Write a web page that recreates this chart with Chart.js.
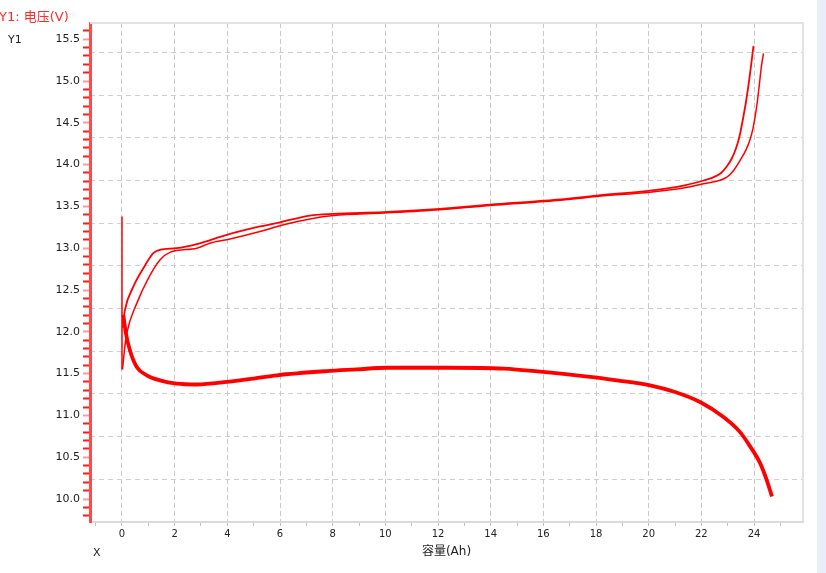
<!DOCTYPE html>
<html lang="zh">
<head>
<meta charset="UTF-8">
<title>电压-容量曲线</title>
<script src="https://cdn.jsdelivr.net/npm/chart.js"></script>
<style>
  * { margin: 0; padding: 0; box-sizing: border-box }
  body { background: #eaeef8; width: 826px; height: 573px; overflow: hidden; font-family: 'DejaVu Sans', 'Noto Sans CJK SC', sans-serif }
  #wrap { position: relative; width: 817px; height: 573px; background: #fff }
  #chart { position: absolute; left: 0; top: 0 }
  .lbl { position: absolute; white-space: nowrap; line-height: 1 }
  #ttl { left: -1px; top: 10px; font-size: 13px; color: #ff2a2a }
  #y1 { left: 8px; top: 34px; font-size: 11px; color: #222 }
  #xl { left: 93px; top: 547px; font-size: 11px; color: #222 }
</style>
</head>
<body>
<div id="wrap">
  <canvas id="chart" width="817" height="573"></canvas>
  <div class="lbl" id="ttl">Y1: 电压(V)</div>
  <div class="lbl" id="y1">Y1</div>
  <div class="lbl" id="xl">X</div>
</div>
<script>
// 充电曲线 A（先到顶）
const chargeAX = [0.02, 0.11, 0.43, 0.81, 1.19, 1.44, 2.08, 2.84, 3.98, 5.24, 6.0, 7.14, 8.03, 9.92, 12.08, 13.98, 16.51, 18.03, 20.05, 21.32, 22.08, 22.71, 22.97, 23.15, 23.3, 23.45, 23.6, 23.72, 23.82, 23.91, 23.98];
const chargeAY = [12.05, 12.26, 12.54, 12.76, 12.94, 12.98, 13.0, 13.05, 13.16, 13.26, 13.31, 13.39, 13.41, 13.43, 13.47, 13.52, 13.58, 13.63, 13.69, 13.75, 13.81, 13.89, 13.98, 14.07, 14.18, 14.34, 14.58, 14.8, 15.02, 15.24, 15.42];
// 充电曲线 B
const chargeBX = [0.02, 0.1, 0.18, 0.56, 1.0, 1.44, 1.82, 2.84, 3.34, 4.1, 5.24, 6.13, 7.14, 8.03, 9.92, 12.08, 13.98, 16.51, 18.03, 20.05, 21.32, 22.08, 22.97, 23.2, 23.47, 23.7, 23.85, 23.96, 24.04, 24.12, 24.2, 24.27, 24.36];
const chargeBY = [11.55, 11.8, 11.98, 12.34, 12.64, 12.86, 12.95, 13.0, 13.06, 13.11, 13.2, 13.28, 13.35, 13.39, 13.42, 13.46, 13.51, 13.57, 13.62, 13.67, 13.72, 13.77, 13.85, 13.92, 14.05, 14.18, 14.3, 14.43, 14.57, 14.74, 14.95, 15.15, 15.33];
// 放电曲线
const dischargeX = [0.05, 0.15, 0.3, 0.56, 0.94, 1.44, 2.08, 2.84, 3.98, 5.0, 5.88, 7.77, 8.91, 10.05, 12.46, 14.48, 16.0, 17.52, 18.79, 20.05, 21.0, 21.95, 22.84, 23.47, 23.85, 24.23, 24.48, 24.68];
const dischargeY = [12.2, 11.98, 11.78, 11.58, 11.48, 11.42, 11.38, 11.37, 11.4, 11.44, 11.48, 11.53, 11.55, 11.57, 11.57, 11.56, 11.52, 11.47, 11.42, 11.36, 11.28, 11.16, 10.98, 10.8, 10.63, 10.43, 10.23, 10.03];
// 起始处的竖线
const spikeX = [0, 0];
const spikeY = [13.38, 11.55];

const xTitle = '容量(Ah)';

function pts(xs, ys) { return xs.map((x, i) => ({ x, y: ys[i] })); }

const frame = {
  id: 'frame',
  beforeDatasetsDraw(chart) {
    const { ctx, chartArea: a } = chart;
    ctx.save();
    ctx.strokeStyle = '#e2e2e2';
    ctx.lineWidth = 2;
    ctx.beginPath();
    ctx.moveTo(a.left, a.top); ctx.lineTo(a.right, a.top); ctx.lineTo(a.right, a.bottom);
    ctx.stroke();
    ctx.restore();
  }
};

const line = (data, w, mode) => ({
  data, showLine: true, pointRadius: 0, borderColor: '#ff0000', borderWidth: w,
  cubicInterpolationMode: mode, tension: 0
});

new Chart(document.getElementById('chart'), {
  type: 'scatter',
  data: {
    datasets: [
      line(pts(spikeX, spikeY), 1.5, 'default'),
      line(pts(chargeAX, chargeAY), 1.8, 'monotone'),
      line(pts(chargeBX, chargeBY), 1.5, 'monotone'),
      line(pts(dischargeX, dischargeY), 3.8, 'monotone')
    ]
  },
  options: {
    responsive: false,
    animation: false,
    events: [],
    layout: { padding: { top: 23, right: 14, left: 0, bottom: 0 } },
    plugins: { legend: { display: false }, tooltip: { enabled: false } },
    scales: {
      x: {
        type: 'linear', min: -1.215, max: 25.86,
        afterFit: s => { s.height = 51 },
        ticks: {
          stepSize: 1, includeBounds: false, autoSkip: false, maxRotation: 0, padding: 2,
          color: '#222', font: { family: 'DejaVu Sans', size: 10 },
          callback: v => (Math.round(v) % 2 === 0 ? String(Math.round(v)) : '')
        },
        grid: {
          color: c => (Math.round(c.tick.value) % 2 === 0 ? '#c8c8c8' : 'rgba(0,0,0,0)'),
          lineWidth: 1, tickColor: '#c0c0c0', tickLength: 4, tickWidth: 1
        },
        border: { color: '#dadada', width: 2, dash: [5, 3] },
        title: {
          display: true, text: xTitle, color: '#222',
          font: { family: "'DejaVu Sans', 'Noto Sans CJK SC'", size: 12 },
          padding: { top: 0, bottom: 14 }
        }
      },
      y: {
        type: 'linear', position: 'left', min: 9.725, max: 15.694,
        afterFit: s => { s.width = 90 },
        ticks: {
          stepSize: 0.1, includeBounds: false, autoSkip: false, padding: 3,
          color: '#222', font: { family: 'DejaVu Sans', size: 11 },
          callback: v => (Math.round(v * 10) % 5 === 0 ? v.toFixed(1) : '')
        },
        grid: {
          drawOnChartArea: false, tickLength: 7, tickWidth: 2,
          tickColor: c => (Math.round(c.tick.value * 10) % 5 === 0 ? '#ff9a9a' : '#ff1a1a')
        },
        border: { color: '#ff4a4a', width: 3 }
      },
      yg: {
        type: 'linear', position: 'right', min: 0, max: 11.69,
        afterFit: s => { s.width = 0 },
        ticks: { display: false, stepSize: 1, includeBounds: false },
        grid: { drawTicks: false, color: c => (c.tick.value === 0 ? 'rgba(0,0,0,0)' : '#cfcfcf'), lineWidth: 1 },
        border: { display: false, dash: [5, 4] }
      }
    }
  },
  plugins: [frame]
});
</script>
</body>
</html>
